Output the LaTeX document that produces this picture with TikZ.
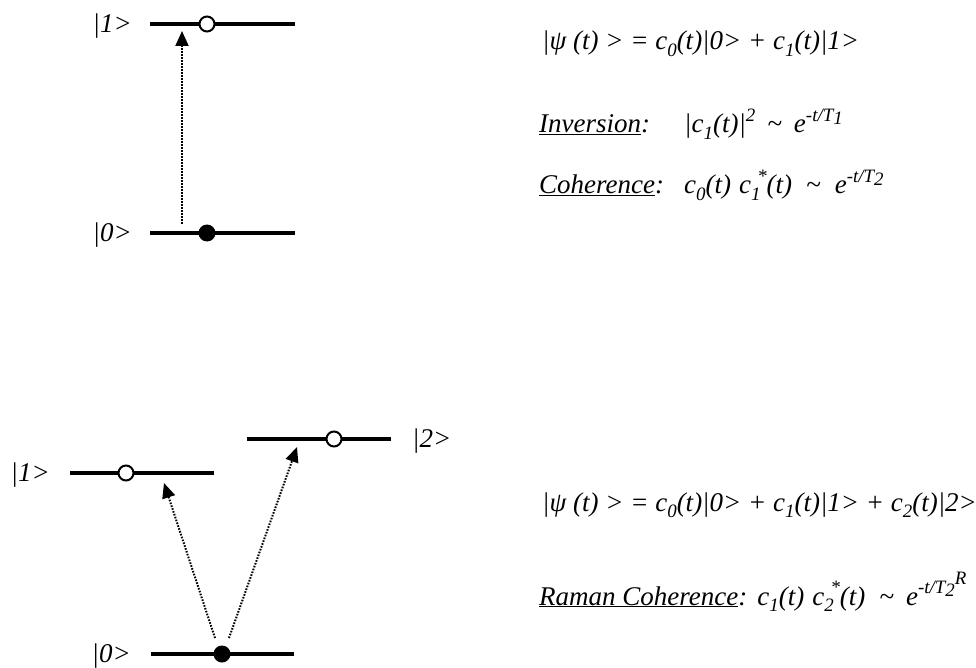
\documentclass[tikz,border=0pt]{standalone}
\usepackage{fontspec}
\setmainfont{Liberation Serif}
\usepackage{graphicx}
\usetikzlibrary{arrows.meta}
\newcommand\dn[1]{\raisebox{-0.25em}{\scalebox{0.7}{#1}}}
\newcommand\up[1]{\raisebox{0.42em}{\scalebox{0.7}{#1}}}
\newcommand\sdn[1]{\raisebox{-0.15em}{#1}}
\newcommand\dnup[2]{\dn{#1}\kern-0.12em\up{#2}}
\newcommand\tld{\textasciitilde}
\begin{document}
\begin{tikzpicture}[x=1pt,y=-1pt,
  level/.style={line width=3.2pt},
  hole/.style={circle,draw,line width=2pt,fill=white,inner sep=0pt,minimum size=15pt},
  dot/.style={circle,fill=black,inner sep=0pt,minimum size=17pt},
  lbl/.style={font=\fontsize{27}{31}\selectfont\itshape,inner sep=0pt},
  eq/.style={lbl,anchor=base west},
  trans/.style={line width=2pt,dash pattern=on 1.6pt off 1.4pt,-{Triangle[length=15pt,width=13pt]}}]
\useasboundingbox (0,0) rectangle (976,668);
% ---- two-level system ----
\coordinate (a1L) at (150,24); \coordinate (a1R) at (295,24);
\coordinate (a0L) at (150,233); \coordinate (a0R) at (295,233);
\draw[level] (a1L) -- (a1R);
\draw[level] (a0L) -- (a0R);
\node[hole] (a1h) at (207,24) {};
\node[dot] (a0d) at (207,233) {};
\node[lbl,anchor=east] (a1lab) at (132,26) {|1>};
\node[lbl,anchor=east] (a0lab) at (132,235) {|0>};
\coordinate (aS) at (182,224); \coordinate (aT) at (182,31);
\draw[trans] (aS) -- (aT);
% ---- three-level system ----
\coordinate (b1L) at (70,473); \coordinate (b1R) at (214,473);
\coordinate (b2L) at (247,439); \coordinate (b2R) at (391,439);
\coordinate (b0L) at (151,654); \coordinate (b0R) at (294,654);
\draw[level] (b1L) -- (b1R);
\draw[level] (b2L) -- (b2R);
\draw[level] (b0L) -- (b0R);
\node[hole] (b1h) at (126,473) {};
\node[hole] (b2h) at (334,439) {};
\node[dot] (b0d) at (222,654) {};
\node[lbl,anchor=east] (b1lab) at (50,475) {|1>};
\node[lbl,anchor=west] (b2lab) at (412,441) {|2>};
\node[lbl,anchor=east] (b0lab) at (131,656) {|0>};
\coordinate (bS1) at (215,638); \coordinate (bT1) at (164,483);
\coordinate (bS2) at (229,638); \coordinate (bT2) at (297,447);
\draw[trans] (bS1) -- (bT1);
\draw[trans] (bS2) -- (bT2);
% ---- equations ----
\node[eq] (e1) at (542,50) {|ψ (t) > = c\dn{0}(t)|0> + c\dn{1}(t)|1>};
\node[eq] (e2) at (539,133) {\underline{Inversion}:\hspace{34pt}|c\dn{1}(t)|\up{2}\hspace{12pt}\tld\hspace{12pt}e\up{-t/T\sdn{1}}};
\node[eq] (e3) at (539,194) {\underline{Coherence}:\hspace{20pt}c\dn{0}(t)\hspace{8pt}c\dnup{1}{*}(t)\hspace{14pt}\tld\hspace{14pt}e\up{-t/T\sdn{2}}};
\node[eq] (e4) at (542,511) {|ψ (t) > = c\dn{0}(t)|0> + c\dn{1}(t)|1> + c\dn{2}(t)|2>};
\node[eq] (e5) at (539,605) {\underline{Raman Coherence}:\hspace{10pt}c\dn{1}(t)\hspace{8pt}c\dnup{2}{*}(t)\hspace{14pt}\tld\hspace{12pt}e\up{-t/T\sdn{2}\raisebox{0.5em}{R}}};
\end{tikzpicture}
\end{document}
